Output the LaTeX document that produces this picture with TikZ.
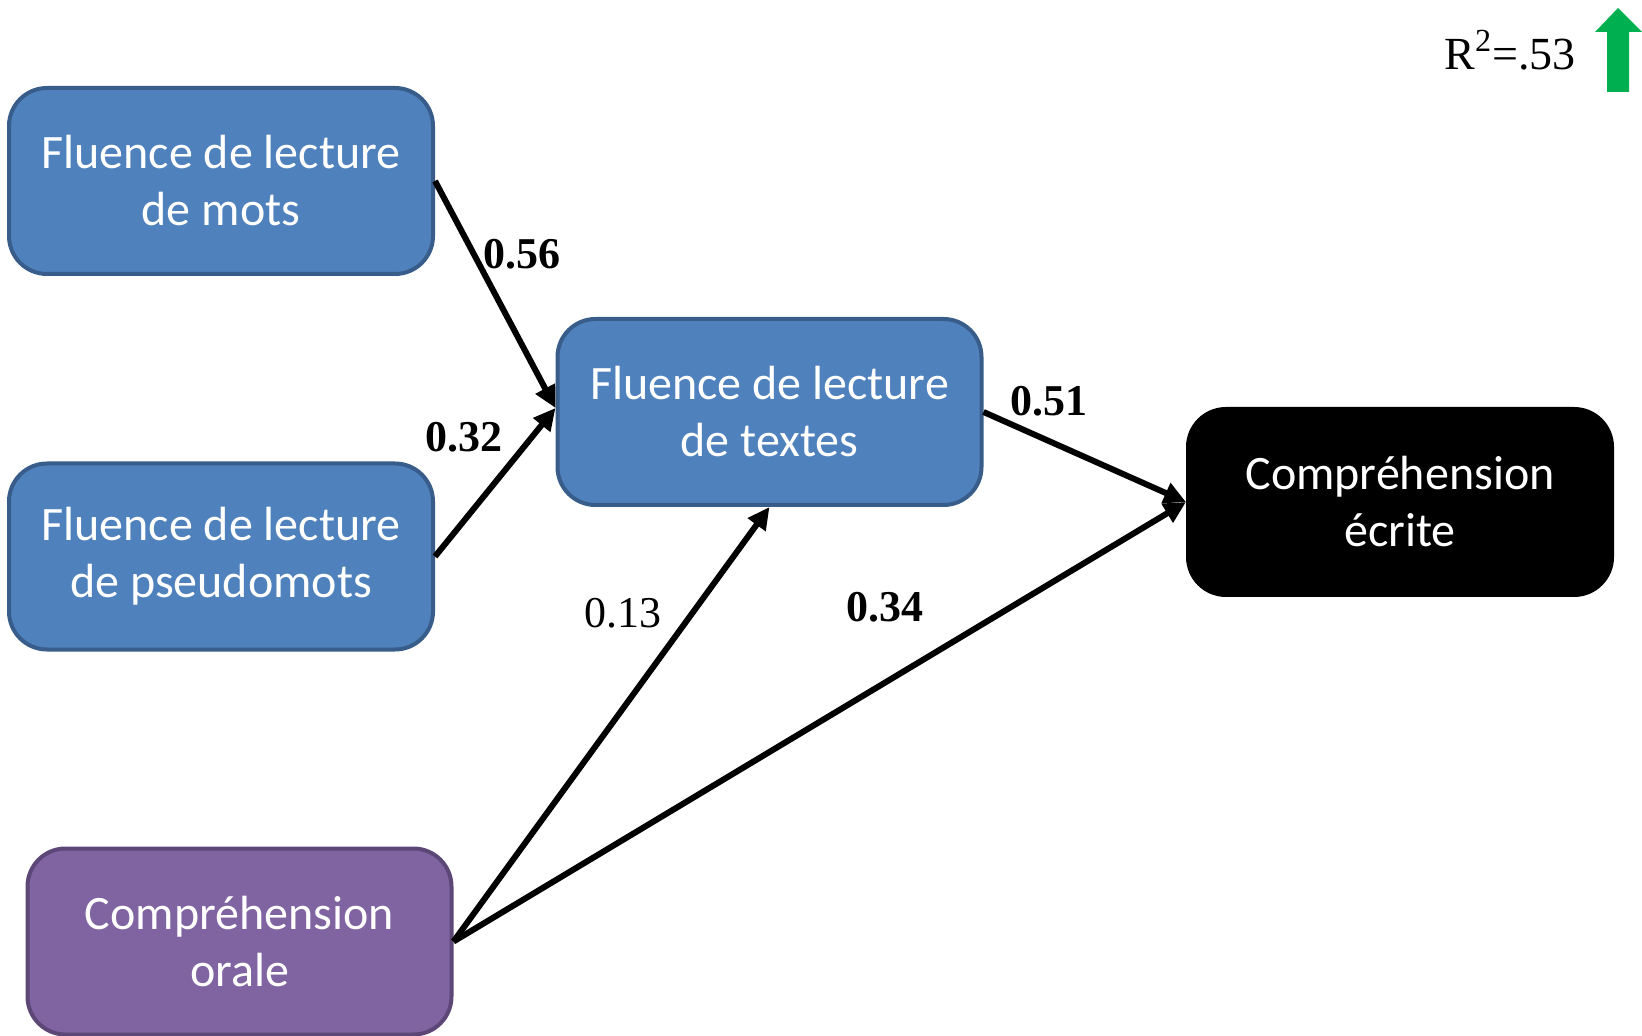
\documentclass[tikz,border=0pt]{standalone}
\usepackage{fontspec}
\setmainfont{Liberation Serif}
\newfontfamily\boxfont{Carlito}
\usetikzlibrary{arrows.meta}
\definecolor{fluefill}{HTML}{4F81BD}
\definecolor{fluedraw}{HTML}{385D8A}
\definecolor{oralfill}{HTML}{8064A2}
\definecolor{oraldraw}{HTML}{5C4776}
\definecolor{upgreen}{HTML}{00B050}
\begin{document}
\begin{tikzpicture}[x=0.5pt,y=-0.5pt,
  varbox/.style={rounded corners=19pt, line width=2pt, align=center,
    text=white, minimum width=212pt, minimum height=93pt, inner sep=0pt,
    font=\boxfont\fontsize{24}{28.5}\selectfont},
  fluence/.style={varbox, draw=fluedraw, fill=fluefill},
  oral/.style={varbox, draw=oraldraw, fill=oralfill},
  outcome/.style={varbox, draw=black, fill=black},
  path/.style={line width=3pt, -{Triangle[length=11pt,width=10.5pt]}},
  coef/.style={font=\fontsize{22}{24}\selectfont\bfseries, inner sep=0pt},
  coefns/.style={font=\fontsize{22}{24}\selectfont, inner sep=0pt}]
\useasboundingbox (0,0) rectangle (1642,1036);

% variables
\node[fluence] (mots) at (221,181) {Fluence de lecture\\de mots};
\node[fluence] (pseudo) at (221,556.5) {Fluence de lecture\\de pseudomots};
\node[fluence] (textes) at (769.5,412) {Fluence de lecture\\de textes};
\node[outcome] (ecrite) at (1400,502) {Compréhension\\écrite};
\node[oral] (orale) at (239.5,941.5) {Compréhension\\orale};

% paths between variables
\coordinate (tin) at ([yshift=2pt]textes.west);
\draw[path] (mots.east) -- (tin);
\draw[path] (pseudo.east) -- (tin);
\draw[path] (textes.east) -- (ecrite.west);
\draw[path] (orale.east) -- (textes.south);
\draw[path] (orale.east) -- (ecrite.west);

% path coefficients
\node[coef] (c56) at (522,254) {0.56};
\node[coef] (c32) at (464,437) {0.32};
\node[coef] (c51) at (1049,401) {0.51};
\node[coefns] (c13) at (623,613) {0.13};
\node[coef] (c34) at (885,607) {0.34};

% explained variance
\node[font=\fontsize{23}{26}\selectfont, inner sep=0pt, anchor=base west]
  (r2) at (1444,70) {R\textsuperscript{2}=.53};
\fill[upgreen] (1607,92) -- (1607,32) -- (1595,32) -- (1618,8) -- (1642,32)
  -- (1629,32) -- (1629,92) -- cycle;
\end{tikzpicture}
\end{document}
